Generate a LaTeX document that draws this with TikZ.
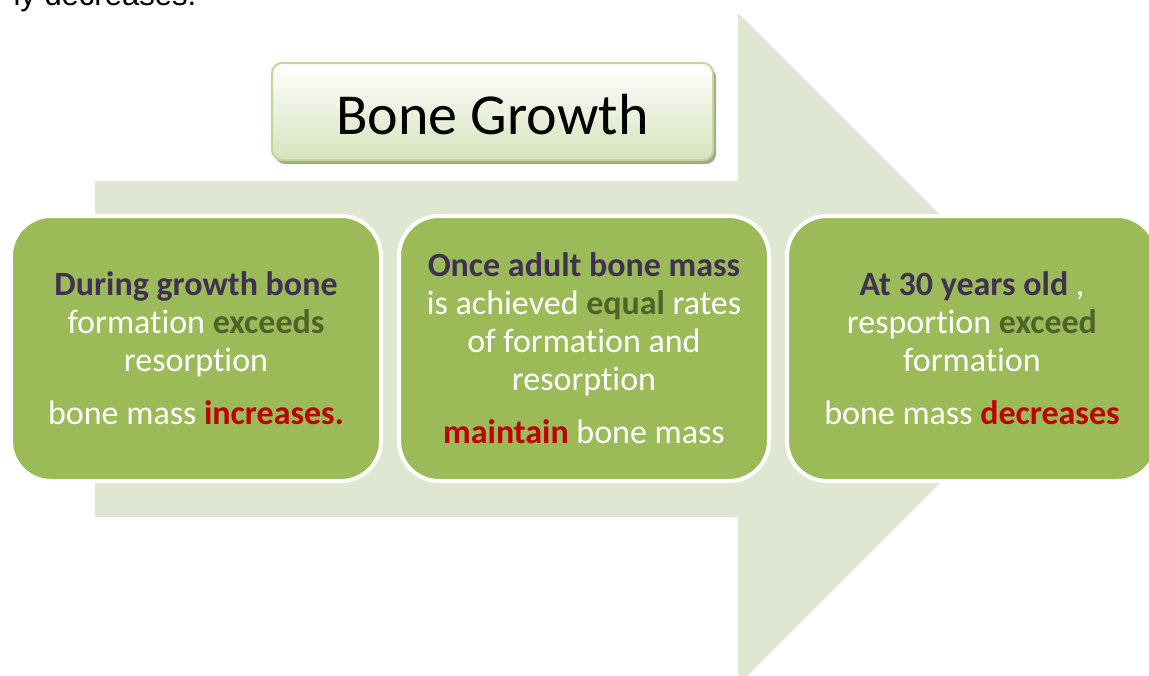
\documentclass[tikz,border=0pt]{standalone}
\usepackage{fontspec}
\setmainfont{Carlito}[Ligatures=NoCommon]
\newfontfamily\carryfont{Liberation Sans}
\usepackage{xcolor}
\usepackage{tikz}
\usetikzlibrary{positioning, shadows}

\definecolor{boxgreen}{HTML}{9BBB59}
\definecolor{arrowbg}{HTML}{DFE7D2}
\definecolor{titleedge}{HTML}{C3D69B}
\definecolor{titlelow}{HTML}{D6E3BC}
\definecolor{titleshade}{HTML}{9FAA88}
\definecolor{leadpurple}{HTML}{403152}
\definecolor{keygreen}{HTML}{4F6228}
\definecolor{warnred}{HTML}{C00000}

\newcommand{\boneLead}[1]{{\bfseries\color{leadpurple}#1}}
\newcommand{\boneKey}[1]{{\bfseries\color{keygreen}#1}}
\newcommand{\boneWarn}[1]{{\bfseries\color{warnred}#1}}

\tikzstyle{stagebox} = [fill=boxgreen, draw=white, line width=4pt, rounded corners=40pt,
                        minimum width=370pt, minimum height=265pt, inner sep=0pt,
                        text=white, font=\fontsize{34}{38}\selectfont]
\tikzstyle{titlebox} = [draw=titleedge, line width=2pt, rounded corners=10pt,
                        top color=white, bottom color=titlelow,
                        drop shadow={shadow xshift=3pt, shadow yshift=-4pt, fill=titleshade, opacity=1},
                        minimum width=441pt, minimum height=97pt, text height=45pt, text depth=0pt,
                        font=\fontsize{58}{64}\selectfont]
\tikzset{every node/.style={align=center}}

\begin{document}
\begin{tikzpicture}[x=1pt, y=-1pt]
  \clip (0,0) rectangle (1149,675);
  % Tail of the sentence above
  \node[anchor=base west, font=\carryfont\fontsize{31}{36}\selectfont] (carry) at (10,5) {ly decreases.};
  % Big arrow behind the stages
  \fill[arrowbg] (95,181) -- (738,181) -- (738,13) -- (1074,349) -- (738,685) -- (738,517) -- (95,517) -- cycle;
  % Title
  \node[titlebox] (title) at (492.5,111.5) {Bone Growth};
  % Stages
  \node[stagebox] (growth) at (196,348.5)
      {\boneLead{During growth bone}\\ formation \boneKey{exceeds}\\ resorption\\[15pt]
       bone mass \boneWarn{increases.}};
  \node[stagebox, right=14pt of growth] (adult)
      {\boneLead{Once adult bone mass}\\ is achieved \boneKey{equal} rates\\ of formation and\\ resorption\\[15pt]
       \boneWarn{maintain} bone mass};
  \node[stagebox, right=14pt of adult] (thirty)
      {\boneLead{At 30 years old} ,\\ resportion \boneKey{exceed}\\ formation\\[15pt]
       bone mass \boneWarn{decreases}};
\end{tikzpicture}
\end{document}
